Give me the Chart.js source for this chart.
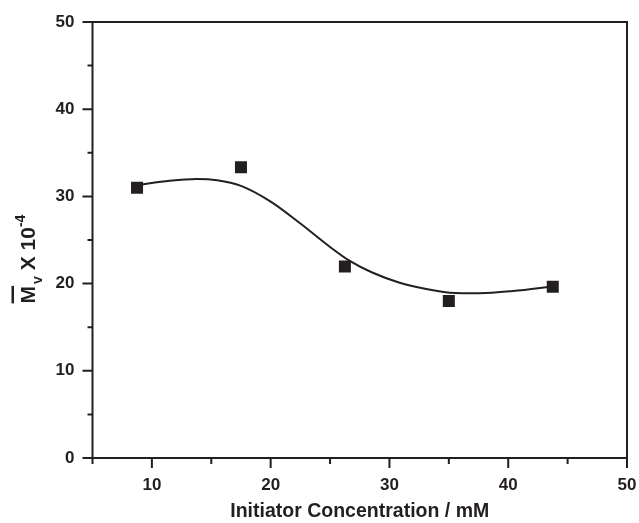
<!DOCTYPE html>
<html>
<head>
<meta charset="utf-8">
<script src="https://cdn.jsdelivr.net/npm/chart.js@4"></script>
<style>
  html, body { margin: 0; padding: 0; background: #fff; }
  #wrap { width: 639px; height: 523px; }
</style>
</head>
<body>
<div id="wrap"><canvas id="mvChart" width="639" height="523"></canvas></div>
<script>
// measured points
const concentration = [8.75, 17.5, 26.25, 35, 43.75];
const mvValues = [31.0, 33.35, 21.95, 18.0, 19.65];

// fitted curve
const fitX = [8.8, 11.5, 13.8, 15.5, 17.5, 20, 22.45, 25, 26.66, 28.5, 30.86, 33, 35.07, 37.6, 40.4, 43.8];
const fitY = [31.3, 31.8, 32.0, 31.85, 31.2, 29.4, 26.95, 24.2, 22.6, 21.3, 20.1, 19.4, 18.96, 18.9, 19.15, 19.7];

const xTicks = [10, 20, 30, 40, 50];
const yTicks = [0, 10, 20, 30, 40, 50];
const xMinor = [5, 15, 25, 35, 45];
const yMinor = [5, 15, 25, 35, 45];

const ink = "#231f20";
const fontFamily = "'Liberation Sans', Arial, sans-serif";

// axis box + tick marks + axis titles
const frame = {
  id: "frame",
  afterDraw(chart) {
    const { ctx, chartArea: a, scales } = chart;
    const xs = scales.x, ys = scales.y;
    ctx.save();
    ctx.strokeStyle = ink;
    ctx.lineWidth = 2;
    ctx.strokeRect(a.left, a.top, a.right - a.left, a.bottom - a.top);

    ctx.beginPath();
    xTicks.forEach(v => { const p = xs.getPixelForValue(v); ctx.moveTo(p, a.bottom); ctx.lineTo(p, a.bottom + 10); });
    xMinor.forEach(v => { const p = xs.getPixelForValue(v); ctx.moveTo(p, a.bottom); ctx.lineTo(p, a.bottom + 6); });
    yTicks.forEach(v => { const p = ys.getPixelForValue(v); ctx.moveTo(a.left, p); ctx.lineTo(a.left - 10, p); });
    yMinor.forEach(v => { const p = ys.getPixelForValue(v); ctx.moveTo(a.left, p); ctx.lineTo(a.left - 5, p); });
    ctx.stroke();

    // x title
    ctx.fillStyle = ink;
    ctx.font = "bold 19.5px " + fontFamily;
    ctx.textAlign = "center";
    ctx.textBaseline = "alphabetic";
    ctx.fillText("Initiator Concentration / mM", (a.left + a.right) / 2, 517);

    // y title: M (overline) sub v  X 10 sup -4
    const big = "bold 21px " + fontFamily;
    const small = "bold 14px " + fontFamily;
    ctx.font = big;
    const wM = ctx.measureText("M").width;
    const wX = ctx.measureText(" X 10").width;
    ctx.font = small;
    const wv = ctx.measureText("v").width;
    const wexp = ctx.measureText("-4").width;
    const total = wM + 2 + wv + wX + wexp;
    ctx.translate(35, 259);
    ctx.rotate(-Math.PI / 2);
    ctx.textAlign = "left";
    let x = -total / 2;
    ctx.font = big;
    ctx.fillText("M", x, 0);
    ctx.fillRect(x, -23.5, wM, 2.5);
    x += wM + 2;
    ctx.font = small;
    ctx.fillText("v", x, 7);
    x += wv;
    ctx.font = big;
    ctx.fillText(" X 10", x, 0);
    x += wX;
    ctx.font = small;
    ctx.fillText("-4", x, -10);
    ctx.restore();
  }
};

const ctx = document.getElementById("mvChart").getContext("2d");
new Chart(ctx, {
  type: "scatter",
  data: {
    datasets: [
      {
        label: "fit",
        type: "line",
        data: fitX.map((x, i) => ({ x: x, y: fitY[i] })),
        borderColor: ink,
        borderWidth: 2,
        pointRadius: 0,
        fill: false,
        cubicInterpolationMode: "monotone"
      },
      {
        label: "Mv",
        data: concentration.map((x, i) => ({ x: x, y: mvValues[i] })),
        pointStyle: "rect",
        pointRadius: 8.5,
        pointHoverRadius: 8.5,
        backgroundColor: ink,
        borderColor: ink,
        borderWidth: 0
      }
    ]
  },
  options: {
    responsive: false,
    animation: false,
    events: [],
    layout: { padding: { top: 22, right: 12, left: 0, bottom: 0 } },
    plugins: { legend: { display: false }, tooltip: { enabled: false } },
    scales: {
      x: {
        type: "linear",
        min: 5,
        max: 50,
        grid: { display: false, drawTicks: false },
        border: { display: false },
        afterBuildTicks: s => { s.ticks = xTicks.map(v => ({ value: v })); },
        afterFit: s => { s.height = 65; s.paddingLeft = 0; s.paddingRight = 0; },
        ticks: { padding: 17, color: ink, font: { family: fontFamily, size: 17, weight: "bold" } }
      },
      y: {
        min: 0,
        max: 50,
        grid: { display: false, drawTicks: false },
        border: { display: false },
        afterBuildTicks: s => { s.ticks = yTicks.map(v => ({ value: v })); },
        afterFit: s => { s.width = 92.5; s.paddingTop = 0; s.paddingBottom = 0; },
        ticks: { padding: 18, color: ink, font: { family: fontFamily, size: 17, weight: "bold" } }
      }
    }
  },
  plugins: [frame]
});
</script>
</body>
</html>
